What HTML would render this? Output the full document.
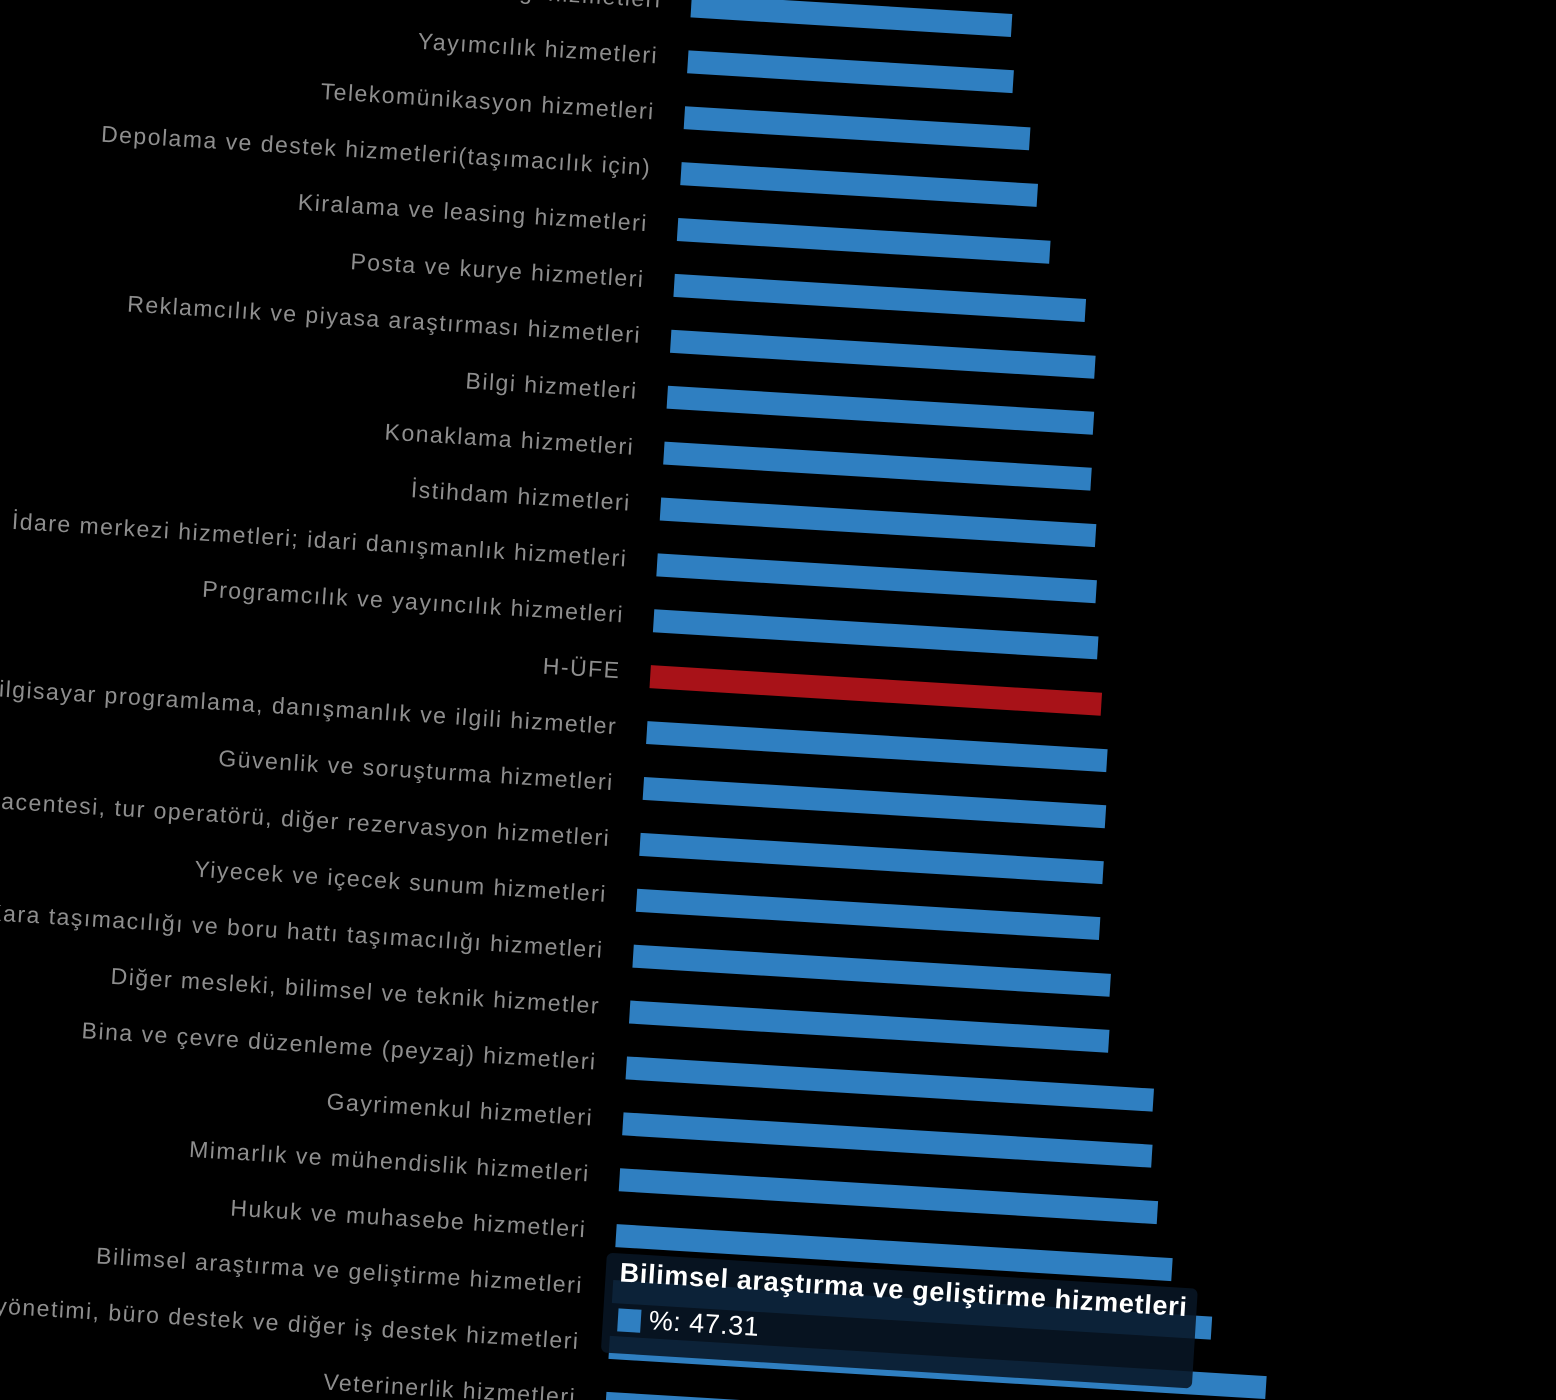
<!DOCTYPE html>
<html><head><meta charset="utf-8"><style>
html,body{margin:0;padding:0;background:#000;width:1556px;height:1400px;overflow:hidden}
#w{position:fixed;left:0;top:0;width:1556px;height:1400px;overflow:hidden;background:#000}
#c{position:absolute;left:0;top:0;width:1556px;height:1400px;transform:rotate(3.5deg);transform-origin:778px 700px}
.b{position:absolute;left:649px;height:23px;background:#2f7fc1}
.l{position:absolute;right:937px;font-family:"Liberation Sans","DejaVu Sans",sans-serif;font-size:23px;letter-spacing:1.5px;color:#8e8e8e;white-space:nowrap}
#tt{position:absolute;left:641px;top:1262px;width:592px;height:100px;background:rgba(8,22,36,0.88);border-radius:6px}
#tt .t{position:absolute;left:14px;top:4px;font-family:"Liberation Sans",sans-serif;font-weight:bold;font-size:27px;letter-spacing:0.7px;color:#fff;white-space:nowrap}
#tt .v{position:absolute;left:46px;top:50px;font-family:"Liberation Sans",sans-serif;font-size:27px;letter-spacing:0.5px;color:#fff}
#tt .s{position:absolute;left:15px;top:55px;width:23px;height:23px;background:#2f7fc1}
</style></head><body><div id="w"><div id="c">
<div class="l" style="top:-5px">Bilgi ve iletişim bilgi hizmetleri</div><div class="b" style="top:1px;width:321px"></div>
<div class="l" style="top:51px">Yayımcılık hizmetleri</div><div class="b" style="top:57px;width:326px"></div>
<div class="l" style="top:107px">Telekomünikasyon hizmetleri</div><div class="b" style="top:113px;width:346px"></div>
<div class="l" style="top:163px">Depolama ve destek hizmetleri(taşımacılık için)</div><div class="b" style="top:169px;width:357px"></div>
<div class="l" style="top:219px">Kiralama ve leasing hizmetleri</div><div class="b" style="top:225px;width:373px"></div>
<div class="l" style="top:275px">Posta ve kurye hizmetleri</div><div class="b" style="top:281px;width:412px"></div>
<div class="l" style="top:331px">Reklamcılık ve piyasa araştırması hizmetleri</div><div class="b" style="top:337px;width:425px"></div>
<div class="l" style="top:387px">Bilgi hizmetleri</div><div class="b" style="top:393px;width:427px"></div>
<div class="l" style="top:443px">Konaklama hizmetleri</div><div class="b" style="top:449px;width:428px"></div>
<div class="l" style="top:499px">İstihdam hizmetleri</div><div class="b" style="top:505px;width:436px"></div>
<div class="l" style="top:555px">İdare merkezi hizmetleri; idari danışmanlık hizmetleri</div><div class="b" style="top:561px;width:440px"></div>
<div class="l" style="top:611px">Programcılık ve yayıncılık hizmetleri</div><div class="b" style="top:617px;width:445px"></div>
<div class="l" style="top:667px">H-ÜFE</div><div class="b" style="top:673px;width:452px;background:#a81218"></div>
<div class="l" style="top:723px">Bilgisayar programlama, danışmanlık ve ilgili hizmetler</div><div class="b" style="top:729px;width:461px"></div>
<div class="l" style="top:779px">Güvenlik ve soruşturma hizmetleri</div><div class="b" style="top:785px;width:463px"></div>
<div class="l" style="top:835px">Seyahat acentesi, tur operatörü, diğer rezervasyon hizmetleri</div><div class="b" style="top:841px;width:464px"></div>
<div class="l" style="top:891px">Yiyecek ve içecek sunum hizmetleri</div><div class="b" style="top:897px;width:464px"></div>
<div class="l" style="top:947px">Kara taşımacılığı ve boru hattı taşımacılığı hizmetleri</div><div class="b" style="top:953px;width:478px"></div>
<div class="l" style="top:1003px">Diğer mesleki, bilimsel ve teknik hizmetler</div><div class="b" style="top:1009px;width:480px"></div>
<div class="l" style="top:1059px">Bina ve çevre düzenleme (peyzaj) hizmetleri</div><div class="b" style="top:1065px;width:528px"></div>
<div class="l" style="top:1115px">Gayrimenkul hizmetleri</div><div class="b" style="top:1121px;width:530px"></div>
<div class="l" style="top:1171px">Mimarlık ve mühendislik hizmetleri</div><div class="b" style="top:1177px;width:539px"></div>
<div class="l" style="top:1227px">Hukuk ve muhasebe hizmetleri</div><div class="b" style="top:1233px;width:557px"></div>
<div class="l" style="top:1283px">Bilimsel araştırma ve geliştirme hizmetleri</div><div class="b" style="top:1289px;width:600px"></div>
<div class="l" style="top:1339px">Büro yönetimi, büro destek ve diğer iş destek hizmetleri</div><div class="b" style="top:1345px;width:658px"></div>
<div class="l" style="top:1395px">Veterinerlik hizmetleri</div><div class="b" style="top:1401px;width:690px"></div>
<div id="tt"><div class="t">Bilimsel araştırma ve geliştirme hizmetleri</div><div class="s"></div><div class="v">%: 47.31</div></div>
</div></div></body></html>
